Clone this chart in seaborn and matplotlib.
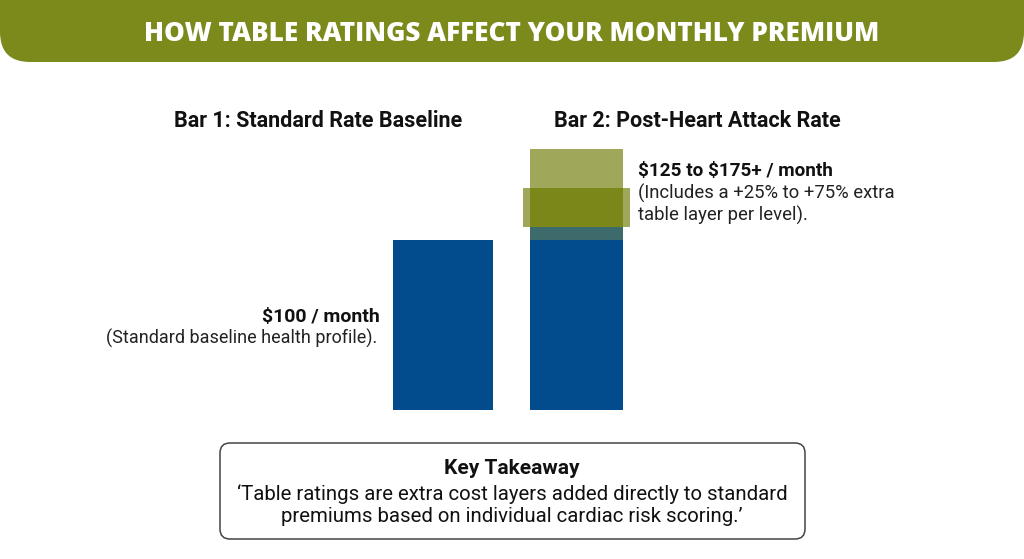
import matplotlib
matplotlib.use("Agg")
import matplotlib.pyplot as plt
import seaborn as sns
import pandas as pd
from matplotlib.patches import FancyBboxPatch

# chart values (premium units, $100 = standard baseline)
categories = ["Bar 1", "Bar 2"]
base_premium = [100, 100]
bar_widths = [0.75, 0.70]

# stacked table layers on bar 2
layer_low = [100, 107.5, 130.5]
layer_high = [107.5, 130.5, 153.5]
layer_colors = ["#3d6b6c", "#7b8718", "#9ea75a"]

# wider highlighted band sitting behind the middle layer
band_low, band_high = 107.5, 130.5

BLUE = "#024c8d"
OLIVE = "#7b8a1b"
LIGHT_OLIVE = "#9ea75a"
INK = "#111111"

sns.set_theme(style="white")
plt.rcParams["font.family"] = ["Roboto", "DejaVu Sans"]

fig = plt.figure(figsize=(10.24, 5.59), dpi=100)

# background axes in pixel coords for header / annotations
bg = fig.add_axes([0, 0, 1, 1])
bg.set_xlim(0, 1024)
bg.set_ylim(559, 0)
bg.axis("off")

header = FancyBboxPatch((0, -40), 1024, 102,
                        boxstyle="round,pad=0,rounding_size=30",
                        facecolor=OLIVE, edgecolor="none")
bg.add_patch(header)
bg.text(512, 34, "HOW TABLE RATINGS AFFECT YOUR MONTHLY PREMIUM",
        ha="center", va="center", color="white", fontsize=18.8,
        fontweight="heavy", family=["Open Sans", "DejaVu Sans"])

bg.text(318, 121, "Bar 1: Standard Rate Baseline", ha="center", va="center",
        fontsize=15.5, fontweight="bold", color=INK)
bg.text(697, 121, "Bar 2: Post-Heart Attack Rate", ha="center", va="center",
        fontsize=15.5, fontweight="bold", color=INK)

bg.text(380, 317, r"\$100 / month", ha="right", va="center",
        fontsize=14, fontweight="bold", color=INK)
bg.text(377, 338, "(Standard baseline health profile).", ha="right",
        va="center", fontsize=13, color="#222222")

bg.text(638, 171, r"\$125 to \$175+ / month", ha="left", va="center",
        fontsize=13.6, fontweight="bold", color=INK)
bg.text(638, 193, "(Includes a +25% to +75% extra", ha="left", va="center",
        fontsize=13.3, color="#222222")
bg.text(638, 215, "table layer per level).", ha="left", va="center",
        fontsize=13.3, color="#222222")

# key takeaway box
box = FancyBboxPatch((220, 443), 585, 96,
                     boxstyle="round,pad=0,rounding_size=10",
                     facecolor="white", edgecolor="#444444", linewidth=1.1)
bg.add_patch(box)
bg.text(512, 468, "Key Takeaway", ha="center", va="center",
        fontsize=15, fontweight="bold", color=INK)
bg.text(512, 494, "\u2018Table ratings are extra cost layers added directly to standard",
        ha="center", va="center", fontsize=14.7, color=INK)
bg.text(512, 517, "premiums based on individual cardiac risk scoring.\u2019",
        ha="center", va="center", fontsize=14.7, color=INK)

# bar axes: x=0 centred at px 443, x=1 at px 576.5, 1.7 px per unit
ax = fig.add_axes([376.25 / 1024, (559 - 410) / 559, 267 / 1024, 270 / 559])
ax.patch.set_alpha(0)
df = pd.DataFrame({"bar": categories, "premium": base_premium})
sns.barplot(data=df, x="bar", y="premium", color=BLUE, saturation=1,
            width=0.72, ax=ax)
for i, (patch, w) in enumerate(zip(ax.patches, bar_widths)):
    patch.set_width(w)
    patch.set_x(i - w / 2)
    patch.set_edgecolor("none")

ax.bar(1, band_high - band_low, bottom=band_low, width=0.80,
       color=LIGHT_OLIVE, linewidth=0, zorder=2)
for lo, hi, c in zip(layer_low, layer_high, layer_colors):
    ax.bar(1, hi - lo, bottom=lo, width=bar_widths[1], color=c,
           linewidth=0, zorder=3)

ax.set_xlim(-0.5, 1.5)
ax.set_ylim(0, 270 / 1.7)
ax.axis("off")

fig.savefig("out.png", dpi=100)
